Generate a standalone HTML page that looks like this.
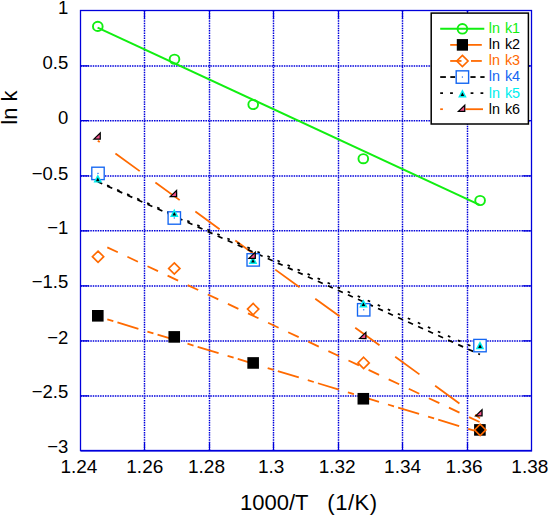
<!DOCTYPE html>
<html><head><meta charset="utf-8"><title>ln k vs 1000/T</title><style>
html,body{margin:0;padding:0;background:#fff;}
svg{display:block;}
text{font-family:"Liberation Sans",sans-serif;}
</style></head><body>
<svg width="550" height="516" viewBox="0 0 550 516">
<rect x="0" y="0" width="550" height="516" fill="#fff"/>
<path d="M144.50 10.5V450.5 M209.50 10.5V450.5 M273.50 10.5V450.5 M338.50 10.5V450.5 M402.50 10.5V450.5 M467.50 10.5V450.5 M80.5 65.90H531.5 M80.5 120.70H531.5 M80.5 175.90H531.5 M80.5 230.80H531.5 M80.5 285.90H531.5 M80.5 340.90H531.5 M80.5 395.90H531.5" stroke="#0000dc" stroke-width="1.45" stroke-dasharray="1.5 0.95" fill="none"/>
<path d="M144.50 10.5v8.5M144.50 450.5v-8.5 M209.50 10.5v8.5M209.50 450.5v-8.5 M273.50 10.5v8.5M273.50 450.5v-8.5 M338.50 10.5v8.5M338.50 450.5v-8.5 M402.50 10.5v8.5M402.50 450.5v-8.5 M467.50 10.5v8.5M467.50 450.5v-8.5 M80.5 65.90h8.5M531.5 65.90h-8.5 M80.5 120.70h8.5M531.5 120.70h-8.5 M80.5 175.90h8.5M531.5 175.90h-8.5 M80.5 230.80h8.5M531.5 230.80h-8.5 M80.5 285.90h8.5M531.5 285.90h-8.5 M80.5 340.90h8.5M531.5 340.90h-8.5 M80.5 395.90h8.5M531.5 395.90h-8.5" stroke="#0000dc" stroke-width="1.2" fill="none"/>
<rect x="80.5" y="10.5" width="451.0" height="440.0" stroke="#0000dc" stroke-width="1.3" fill="none"/>
<line x1="80.5" y1="451.2" x2="532.1" y2="451.2" stroke="#0000dc" stroke-width="1" opacity="0.85"/>
<text x="68.3" y="13.70" font-size="18.5" text-anchor="end" fill="#000">1</text>
<text x="68.3" y="68.90" font-size="18.5" text-anchor="end" fill="#000">0.5</text>
<text x="68.3" y="124.00" font-size="18.5" text-anchor="end" fill="#000">0</text>
<text x="68.3" y="179.50" font-size="18.5" text-anchor="end" fill="#000">−0.5</text>
<text x="68.3" y="234.40" font-size="18.5" text-anchor="end" fill="#000">−1</text>
<text x="68.3" y="288.30" font-size="18.5" text-anchor="end" fill="#000">−1.5</text>
<text x="68.3" y="344.10" font-size="18.5" text-anchor="end" fill="#000">−2</text>
<text x="68.3" y="398.30" font-size="18.5" text-anchor="end" fill="#000">−2.5</text>
<text x="68.3" y="453.30" font-size="18.5" text-anchor="end" fill="#000">−3</text>
<text x="78.90" y="472.7" font-size="19" text-anchor="middle" fill="#000">1.24</text>
<text x="144.80" y="472.7" font-size="19" text-anchor="middle" fill="#000">1.26</text>
<text x="206.50" y="472.7" font-size="19" text-anchor="middle" fill="#000">1.28</text>
<text x="271.20" y="472.7" font-size="19" text-anchor="middle" fill="#000">1.3</text>
<text x="337.20" y="472.7" font-size="19" text-anchor="middle" fill="#000">1.32</text>
<text x="402.60" y="472.7" font-size="19" text-anchor="middle" fill="#000">1.34</text>
<text x="464.10" y="472.7" font-size="19" text-anchor="middle" fill="#000">1.36</text>
<text x="529.85" y="472.7" font-size="19" text-anchor="middle" fill="#000">1.38</text>
<text x="240" y="509.8" font-size="22" fill="#000">1000/T</text>
<text x="327.3" y="509.8" font-size="22" letter-spacing="0.55" fill="#000">(1/K)</text>
<text transform="translate(16.9 107.5) rotate(-90)" font-size="22" text-anchor="middle" fill="#000">ln k</text>
<line x1="97.6" y1="27.6" x2="479.6" y2="204.8" stroke="#11ee11" stroke-width="2"/>
<line x1="97.8" y1="316.5" x2="480" y2="432.4" stroke="#ff6a00" stroke-width="1.8" stroke-dasharray="6.3 4.3 21.9 9.4" stroke-dashoffset="31.97"/>
<line x1="97.8" y1="242.9" x2="480" y2="422.2" stroke="#ff6a00" stroke-width="1.8" stroke-dasharray="11.6 10.6" stroke-dashoffset="11.71"/>
<line x1="97.8" y1="140.66" x2="480" y2="418.36" stroke="#ff6a00" stroke-width="1.8" stroke-dasharray="30 19.4" stroke-dashoffset="27.6"/>
<line x1="97.8" y1="181.8" x2="480" y2="354.5" stroke="#000" stroke-width="1.7" stroke-dasharray="5.4 5.6" stroke-dashoffset="0.53"/>
<line x1="97.8" y1="181.2" x2="480" y2="350.07" stroke="#000" stroke-width="1.7" stroke-dasharray="2.7 8.26" stroke-dashoffset="0.87"/>
<ellipse cx="97.8" cy="26.4" rx="4.85" ry="4.6" stroke="#11ee11" stroke-width="1.9" fill="none"/>
<ellipse cx="174.5" cy="59.2" rx="4.85" ry="4.6" stroke="#11ee11" stroke-width="1.9" fill="none"/>
<ellipse cx="253.2" cy="104.5" rx="4.85" ry="4.6" stroke="#11ee11" stroke-width="1.9" fill="none"/>
<ellipse cx="363.3" cy="158.7" rx="4.85" ry="4.6" stroke="#11ee11" stroke-width="1.9" fill="none"/>
<ellipse cx="480.1" cy="200.5" rx="4.85" ry="4.6" stroke="#11ee11" stroke-width="1.9" fill="none"/>
<rect x="92.00" y="310.00" width="11.6" height="11.6" fill="#000"/>
<rect x="168.45" y="331.10" width="11.6" height="11.6" fill="#000"/>
<rect x="247.35" y="357.15" width="11.6" height="11.6" fill="#000"/>
<rect x="357.53" y="392.95" width="11.6" height="11.6" fill="#000"/>
<rect x="474.10" y="424.10" width="11.6" height="11.6" fill="#000"/>
<path d="M98.05 251.04999999999998L103.7 256.7L98.05 262.34999999999997L92.39999999999999 256.7Z" stroke="#ff6a00" stroke-width="1.65" fill="none"/>
<path d="M174.3 262.8L179.95000000000002 268.45L174.3 274.09999999999997L168.65 268.45Z" stroke="#ff6a00" stroke-width="1.65" fill="none"/>
<path d="M253.15 303.45000000000005L258.8 309.1L253.15 314.75L247.5 309.1Z" stroke="#ff6a00" stroke-width="1.65" fill="none"/>
<path d="M363.6 357.25L369.25 362.9L363.6 368.54999999999995L357.95000000000005 362.9Z" stroke="#ff6a00" stroke-width="1.65" fill="none"/>
<path d="M480.2 424.25L485.84999999999997 429.9L480.2 435.54999999999995L474.55 429.9Z" stroke="#ff6a00" stroke-width="1.65" fill="none"/>
<rect x="91.80" y="167.20" width="12.4" height="12.4" stroke="#1466f2" stroke-width="1.35" fill="#fff"/>
<rect x="97.40" y="172.80" width="1.2" height="1.2" fill="#1466f2"/>
<rect x="168.10" y="211.80" width="12.4" height="12.4" stroke="#1466f2" stroke-width="1.35" fill="#fff"/>
<rect x="173.70" y="217.40" width="1.2" height="1.2" fill="#1466f2"/>
<rect x="247.00" y="253.70" width="12.4" height="12.4" stroke="#1466f2" stroke-width="1.35" fill="#fff"/>
<rect x="252.60" y="259.30" width="1.2" height="1.2" fill="#1466f2"/>
<rect x="357.50" y="303.60" width="12.4" height="12.4" stroke="#1466f2" stroke-width="1.35" fill="#fff"/>
<rect x="363.10" y="309.20" width="1.2" height="1.2" fill="#1466f2"/>
<rect x="473.80" y="339.40" width="12.4" height="12.4" stroke="#1466f2" stroke-width="1.35" fill="#fff"/>
<rect x="479.40" y="345.00" width="1.2" height="1.2" fill="#1466f2"/>
<path d="M97.80 174.20L102.10 182.45L93.50 182.45Z" fill="#00eeee"/><path d="M97.80 177.55L99.65 181.15L95.95 181.15Z" fill="#000"/>
<path d="M174.30 208.65L178.60 216.90L170.00 216.90Z" fill="#00eeee"/><path d="M174.30 212.00L176.15 215.60L172.45 215.60Z" fill="#000"/>
<path d="M253.00 255.65L257.30 263.90L248.70 263.90Z" fill="#00eeee"/><path d="M253.00 259.00L254.85 262.60L251.15 262.60Z" fill="#000"/>
<path d="M363.40 299.15L367.70 307.40L359.10 307.40Z" fill="#00eeee"/><path d="M363.40 302.50L365.25 306.10L361.55 306.10Z" fill="#000"/>
<path d="M480.00 340.95L484.30 349.20L475.70 349.20Z" fill="#00eeee"/><path d="M480.00 344.30L481.85 347.90L478.15 347.90Z" fill="#000"/>
<path d="M92.40 139.75L100.85 131.55L100.90 139.85Z" fill="#000"/><path d="M95.30 138.55L99.60 134.45L99.60 138.55Z" fill="#f0508a"/>
<path d="M168.75 197.20L177.20 189.00L177.25 197.30Z" fill="#000"/><path d="M171.65 196.00L175.95 191.90L175.95 196.00Z" fill="#f0508a"/>
<path d="M247.45 258.95L255.90 250.75L255.95 259.05Z" fill="#000"/><path d="M250.35 257.75L254.65 253.65L254.65 257.75Z" fill="#f0508a"/>
<path d="M358.05 339.10L366.50 330.90L366.55 339.20Z" fill="#000"/><path d="M360.95 337.90L365.25 333.80L365.25 337.90Z" fill="#f0508a"/>
<path d="M474.20 416.45L482.65 408.25L482.70 416.55Z" fill="#000"/><path d="M477.10 415.25L481.40 411.15L481.40 415.25Z" fill="#f0508a"/>
<rect x="431.2" y="13.1" width="97.2" height="110.9" stroke="#000" stroke-width="1.5" fill="#fff"/>
<line x1="440.2" y1="28.8" x2="484.3" y2="28.8" stroke="#11ee11" stroke-width="2"/>
<circle cx="462.4" cy="28.8" r="4.85" stroke="#11ee11" stroke-width="1.9" fill="none"/>
<line x1="450.2" y1="44.879999999999995" x2="481.8" y2="44.879999999999995" stroke="#ff6a00" stroke-width="1.8"/>
<rect x="456.79999999999995" y="39.08" width="11.2" height="11.6" fill="#000"/>
<line x1="450.2" y1="60.959999999999994" x2="461.5" y2="60.959999999999994" stroke="#ff6a00" stroke-width="1.8"/>
<line x1="471.0" y1="60.959999999999994" x2="481.8" y2="60.959999999999994" stroke="#ff6a00" stroke-width="1.8"/>
<path d="M462.4 55.309999999999995L468.04999999999995 60.959999999999994L462.4 66.61L456.75 60.959999999999994Z" stroke="#ff6a00" stroke-width="1.65" fill="none"/>
<line x1="440.2" y1="77.03999999999999" x2="445.9" y2="77.03999999999999" stroke="#000" stroke-width="1.8"/>
<line x1="450.3" y1="77.03999999999999" x2="455.2" y2="77.03999999999999" stroke="#000" stroke-width="1.8"/>
<line x1="470.4" y1="77.03999999999999" x2="475.6" y2="77.03999999999999" stroke="#000" stroke-width="1.8"/>
<line x1="480.3" y1="77.03999999999999" x2="484.6" y2="77.03999999999999" stroke="#000" stroke-width="1.8"/>
<rect x="456.2" y="70.83999999999999" width="12.4" height="12.4" stroke="#1466f2" stroke-width="1.4" fill="none"/>
<rect x="461.79999999999995" y="76.44" width="1.2" height="1.2" fill="#1466f2"/>
<line x1="440.20000000000005" y1="93.11999999999999" x2="443.0" y2="93.11999999999999" stroke="#000" stroke-width="1.7"/>
<line x1="450.1" y1="93.11999999999999" x2="452.9" y2="93.11999999999999" stroke="#000" stroke-width="1.7"/>
<line x1="470.6" y1="93.11999999999999" x2="473.4" y2="93.11999999999999" stroke="#000" stroke-width="1.7"/>
<line x1="480.5" y1="93.11999999999999" x2="483.29999999999995" y2="93.11999999999999" stroke="#000" stroke-width="1.7"/>
<path d="M462.40 89.15L466.70 97.40L458.10 97.40Z" fill="#00eeee"/><path d="M462.40 92.50L464.25 96.10L460.55 96.10Z" fill="#000"/>
<line x1="440.2" y1="109.19999999999999" x2="442.9" y2="109.19999999999999" stroke="#ff6a00" stroke-width="1.7"/>
<line x1="465.5" y1="109.19999999999999" x2="483.0" y2="109.19999999999999" stroke="#ff6a00" stroke-width="1.8"/>
<path d="M456.90 112.00L465.35 103.80L465.40 112.10Z" fill="#000"/><path d="M459.80 110.80L464.10 106.70L464.10 110.80Z" fill="#f0508a"/>
<text x="488.7" y="32.70" font-size="14.4" word-spacing="1" fill="#11ee11">ln k1</text>
<text x="488.7" y="48.90" font-size="14.4" word-spacing="1" fill="#000">ln k2</text>
<text x="488.7" y="65.10" font-size="14.4" word-spacing="1" fill="#ff6a00">ln k3</text>
<text x="488.7" y="81.30" font-size="14.4" word-spacing="1" fill="#1466f2">ln k4</text>
<text x="488.7" y="97.50" font-size="14.4" word-spacing="1" fill="#00eeee">ln k5</text>
<text x="488.7" y="113.70" font-size="14.4" word-spacing="1" fill="#000">ln k6</text>
</svg></body></html>
